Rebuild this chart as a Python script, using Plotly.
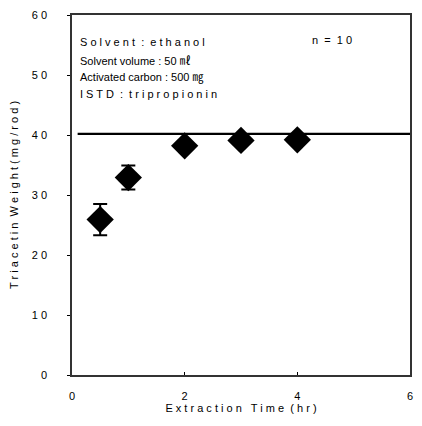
import plotly.graph_objects as go

time_hr = [0.5, 1, 2, 3, 4]
weight = [25.9, 32.9, 38.2, 39.1, 39.2]
err = [2.6, 2.0, 0.3, 0.6, 0.4]
ref_level = 40.2
ref_x = [0.1, 6]
y_ticks = [0, 10, 20, 30, 40, 50, 60]
y_tick_text = ["0", "1 0", "2 0", "3 0", "4 0", "5 0", "6 0"]
x_ticks = [0, 2, 4, 6]
notes = ["S o l v e n t  :  e t h a n o l", "Solvent volume : 50 ㎖",
         "Activated carbon : 500 ㎎", "I S T D  :  t r i p r o p i o n i n"]
note_y = [55.5, 52.4, 49.6, 46.8]

font = "Liberation Sans, Arial, Noto Sans CJK KR, sans-serif"

fig = go.Figure()
fig.add_trace(go.Scatter(x=ref_x, y=[ref_level, ref_level], mode="lines",
                         line=dict(color="black", width=2.2), showlegend=False))
fig.add_trace(go.Scatter(x=time_hr, y=weight, mode="markers",
                         marker=dict(symbol="diamond", size=21, color="black"),
                         error_y=dict(type="data", array=err, color="black",
                                      thickness=2, width=7),
                         showlegend=False))

for t, yy in zip(notes, note_y):
    fig.add_annotation(x=0.1, y=yy, xref="x", yref="y", text=t,
                       showarrow=False, xanchor="left", yanchor="middle",
                       font=dict(size=11, color="black", family=font))
fig.add_annotation(x=4.23, y=55.8, xref="x", yref="y", text="n  =  1 0",
                   showarrow=False, xanchor="left", yanchor="middle",
                   font=dict(size=11, color="black", family=font))

# page body has an 8px margin, so the figure is sized/margined to land the
# plot area where the reference has it while keeping edge labels visible
fig.update_layout(
    width=414, height=410,
    margin=dict(l=64, r=12, t=7, b=43),
    paper_bgcolor="white", plot_bgcolor="white",
    font=dict(family=font, color="black", size=11),
    xaxis=dict(range=[0, 6], tickvals=x_ticks, ticks="inside", ticklen=3,
               tickcolor="black", showgrid=False,
               zeroline=False, showline=True, linecolor="#333", linewidth=1.5,
               mirror=True, automargin=False, ticklabelstandoff=10,
               ticklabeloverflow="allow",
               title=dict(text="E x t r a c t i o n   T i m e  ( h r )", standoff=2,
                          font=dict(size=11)),
               tickfont=dict(size=11)),
    yaxis=dict(range=[0, 60], tickvals=y_ticks, ticktext=y_tick_text,
               ticks="outside", ticklen=3, tickcolor="black", showgrid=False,
               zeroline=False, showline=True, linecolor="#333", linewidth=1.5,
               mirror=True, automargin=False, ticklabelstandoff=18,
               ticklabeloverflow="allow",
               title=dict(text="T r i a c e t i n  W e i g h t ( m g / r o d )",
                          standoff=12, font=dict(size=11)),
               tickfont=dict(size=11)),
)

fig.write_html("out.html")
